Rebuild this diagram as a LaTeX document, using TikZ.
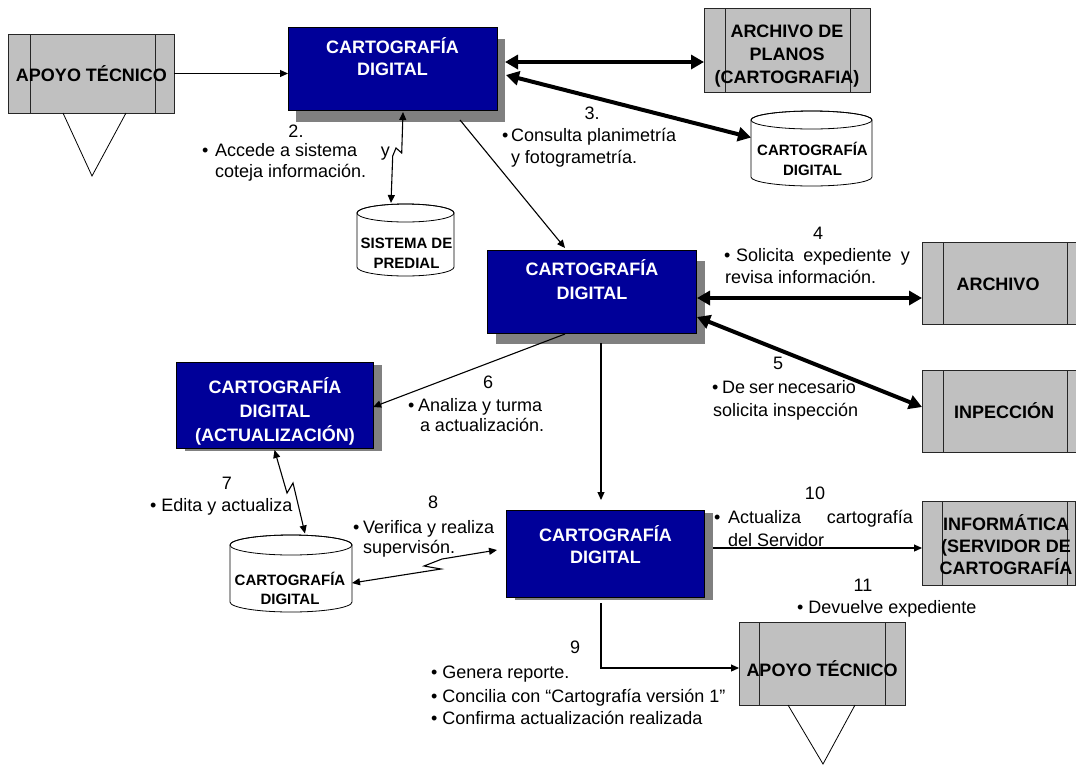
\documentclass[tikz,border=0pt]{standalone}
\usepackage{fontspec}
\setmainfont{Liberation Sans}
\usetikzlibrary{arrows.meta,calc,shadows}
\definecolor{boxblue}{HTML}{000099}
\definecolor{shadowgray}{HTML}{808080}
\definecolor{panelgray}{HTML}{C0C0C0}

% cylinder (data store): centre x, top y, bottom y, x radius, y radius
\newcommand\drawcyl[5]{%
  \filldraw[fill=white,draw=black,line width=0.8pt]
    (#1-#4,#2+#5) -- (#1-#4,#3-#5)
    arc[start angle=180,end angle=0,x radius=#4,y radius=#5]
    -- (#1+#4,#2+#5)
    arc[start angle=0,end angle=-180,x radius=#4,y radius=#5] -- cycle;
  \draw[line width=0.8pt] (#1,#2+#5) ellipse[x radius=#4,y radius=#5];}

\tikzset{
  every node/.style={inner sep=0pt,outer sep=0pt},
  bluebox/.style 2 args={draw=black,line width=0.8pt,fill=boxblue,
    drop shadow={shadow xshift=#1,shadow yshift=#2,fill=shadowgray,opacity=1}},
  graypanel/.style 2 args={draw=black!85,line width=0.8pt,fill=panelgray,
    path picture={
      \draw[black!85,line width=0.8pt]
        ([xshift=#1]path picture bounding box.north west) --
        ([xshift=#1]path picture bounding box.south west);
      \draw[black!85,line width=0.8pt]
        ([xshift=-#2]path picture bounding box.north east) --
        ([xshift=-#2]path picture bounding box.south east);}},
  storebox/.style={draw=none},
  boxtxt/.style={anchor=base,text=white,font=\fontsize{18}{22}\selectfont\bfseries},
  paneltxt/.style={anchor=base,text=black,font=\fontsize{18}{22}\selectfont\bfseries},
  cyltxt/.style={anchor=base,text=black,font=\fontsize{15}{20}\selectfont\bfseries},
  lbl/.style={anchor=base west,font=\fontsize{18}{22}\selectfont},
  num/.style={anchor=base,font=\fontsize{18}{22}\selectfont},
  flow/.style={line width=1.1pt,-{Triangle[length=8pt,width=7pt]}},
  flowboth/.style={line width=1.1pt,{Triangle[length=8pt,width=7pt]}-{Triangle[length=8pt,width=7pt]}},
  heavy/.style={line width=4pt,{Triangle[length=13pt,width=14pt]}-{Triangle[length=13pt,width=14pt]}},
  tri/.style={line width=0.8pt}
}

\begin{document}
\begin{tikzpicture}[x=1pt,y=-1pt]
\useasboundingbox (0,0) rectangle (1076,764);

% ---------- process boxes ----------
\node[bluebox={8pt}{-12pt},minimum width=209pt,minimum height=83pt] (box1) at (392.5,68.5) {};
\node[bluebox={9pt}{-11pt},minimum width=209pt,minimum height=83pt] (box2) at (591.5,291.5) {};
\node[bluebox={9pt}{-3pt},minimum width=197pt,minimum height=86pt] (box3) at (274.5,405) {};
\node[bluebox={9pt}{-3pt},minimum width=198pt,minimum height=87pt] (box4) at (605,553.5) {};

% ---------- external entities ----------
\node[graypanel={22pt}{19pt},minimum width=166pt,minimum height=79pt] (apoyo1) at (91,73.5) {};
\draw[tri] ($(apoyo1.south)+(-28,0)$) -- ($(apoyo1.south)+(1,63)$) -- ($(apoyo1.south)+(35,0)$);
\node[graypanel={21pt}{20pt},minimum width=166pt,minimum height=84pt] (archplanos) at (787,50) {};
\node[graypanel={21pt}{21pt},minimum width=166pt,minimum height=82pt] (archivo) at (1005,283) {};
\node[graypanel={21pt}{21pt},minimum width=166pt,minimum height=82pt] (inspeccion) at (1005,411) {};
\node[graypanel={20pt}{8pt},minimum width=153pt,minimum height=84pt] (informatica) at (998.5,543) {};
\node[graypanel={20pt}{20pt},minimum width=166pt,minimum height=83pt] (apoyo2) at (822,663.5) {};
\draw[tri] ($(apoyo2.south)+(-34,0)$) -- ($(apoyo2.south)+(1,59)$) -- ($(apoyo2.south)+(33,0)$);

% ---------- data stores ----------
\drawcyl{811.5}{111}{186}{60.5}{9}
\node[storebox,minimum width=121pt,minimum height=75pt] (cyl1) at (811.5,148.5) {};
\drawcyl{405.5}{204}{276}{48.5}{9}
\node[storebox,minimum width=97pt,minimum height=72pt] (predial) at (405.5,240) {};
\drawcyl{291}{535}{612}{61}{10}
\node[storebox,minimum width=122pt,minimum height=77pt] (cyl2) at (291,573.5) {};

% ---------- box texts ----------
\node[boxtxt] (box1a) at (392.5,53) {CARTOGRAFÍA};
\node[boxtxt] (box1b) at (392.5,75) {DIGITAL};
\node[boxtxt] (box2a) at (592,275) {CARTOGRAFÍA};
\node[boxtxt] (box2b) at (592,299) {DIGITAL};
\node[boxtxt] (box3a) at (275,393) {CARTOGRAFÍA};
\node[boxtxt] (box3b) at (275,417) {DIGITAL};
\node[boxtxt] (box3c) at (275,441) {(ACTUALIZACIÓN)};
\node[boxtxt] (box4a) at (605.5,541) {CARTOGRAFÍA};
\node[boxtxt] (box4b) at (605.5,563) {DIGITAL};

\node[paneltxt] (apoyo1a) at (91.5,81) {APOYO TÉCNICO};
\node[paneltxt] (archplanosa) at (787,37) {ARCHIVO DE};
\node[paneltxt] (archplanosb) at (787,60) {PLANOS};
\node[paneltxt] (archplanosc) at (787,83) {(CARTOGRAFIA)};
\node[paneltxt] (archivoa) at (998,290) {ARCHIVO};
\node[paneltxt] (inspecciona) at (1004,418) {INPECCIÓN};
\node[paneltxt] (informaticaa) at (1006,530) {INFORMÁTICA};
\node[paneltxt] (informaticab) at (1006,552) {(SERVIDOR DE};
\node[paneltxt] (informaticac) at (1006,574) {CARTOGRAFÍA};
\node[paneltxt] (apoyo2a) at (822,676) {APOYO TÉCNICO};

\node[cyltxt] (cyl1a) at (812.5,155) {CARTOGRAFÍA};
\node[cyltxt] (cyl1b) at (812.5,175) {DIGITAL};
\node[cyltxt] (predialA) at (406.5,248) {SISTEMA DE};
\node[cyltxt] (predialB) at (406.5,268) {PREDIAL};
\node[cyltxt] (cyl2a) at (290,585) {CARTOGRAFÍA};
\node[cyltxt] (cyl2b) at (290,604) {DIGITAL};

% ---------- connectors ----------
\draw[flow] (apoyo1.east) -- (apoyo1.east -| box1.west);

\coordinate (planosA) at ($(box1.east)+(8,-6.5)$);
\draw[heavy] (planosA) -- (planosA -| archplanos.west);
\draw[heavy] ($(box1.east)+(9,6.5)$) -- ($(cyl1.west)+(0,-11)$);

\draw[flowboth] ($(box1.south)+(10.5,2)$) -- (401.7,153) -- (396,148) -- (392.7,156)
  -- ($(predial.north)+(-14.5,-1)$);

\draw[flow] ($(box1.south)+(67.5,10)$) -- ($(box2.north)+(-26.5,-2)$);

\coordinate (archA) at ($(box2.east)+(1,6.5)$);
\draw[heavy] (archA) -- (archA -| archivo.west);
\draw[heavy] ($(box2.east)+(1,25.5)$) -- ($(inspeccion.west)+(0,-4)$);

\draw[flow] ($(box2.south)+(-26.5,1)$) -- ($(box3.east)+(0,2)$);

\coordinate (downA) at ($(box2.south)+(9.5,10)$);
\draw[flow] (downA) -- ($(box4.north)+(-4,-10)$);

\draw[flowboth] ($(box3.south)+(0,2)$) -- (287,493) -- (293,483) -- ($(cyl2.north)+(14,-1.5)$);

\draw[flowboth] ($(cyl2.east)+(0,9.5)$) -- (441,569) -- (424,566) -- (442,559)
  -- ($(box4.west)+(-9,-3.5)$);

\coordinate (servA) at ($(box4.east)+(9,-5.5)$);
\draw[flow] (servA) -- (servA -| informatica.west);

\draw[flow] ($(box4.south)+(-4,6)$) |- ($(apoyo2.west)+(0,4.5)$);

% ---------- step annotations ----------
\node[num] (n2) at (296,137) {2.};
\node[lbl] (t2b) at (202,156) {•};
\node[lbl] (t2a) at (215,156) {\makebox[175pt][s]{Accede a sistema\hfill y}};
\node[lbl] (t2c) at (215,177) {coteja información.};

\node[num] (n3) at (592,119) {3.};
\node[lbl] (t3b) at (502,141) {•};
\node[lbl] (t3a) at (511,141) {Consulta planimetría};
\node[lbl] (t3c) at (511,163) {y fotogrametría.};

\node[num] (n4) at (818,239) {4};
\node[lbl] (t4b) at (724,261) {•};
\node[lbl] (t4a) at (736,261) {\makebox[174pt][s]{Solicita expediente y}};
\node[lbl] (t4c) at (725,283) {revisa información.};

\node[num] (n5) at (778,369) {5};
\node[lbl] (t5a) at (712,393) {\makebox[144pt][s]{• De ser necesario}};
\node[lbl] (t5c) at (713,416) {solicita inspección};

\node[num] (n6) at (488,388) {6};
\node[lbl] (t6b) at (408,411) {•};
\node[lbl] (t6a) at (418,411) {Analiza y turma};
\node[lbl] (t6c) at (420,431) {a actualización.};

\node[num] (n7) at (227,489) {7};
\node[lbl] (t7a) at (150,511) {• Edita y actualiza};

\node[num] (n8) at (433,508) {8};
\node[lbl] (t8b) at (353,533) {•};
\node[lbl] (t8a) at (363,533) {Verifica y realiza};
\node[lbl] (t8c) at (363,553) {supervisón.};

\node[num] (n9) at (575,653) {9};
\node[lbl] (t9a) at (431,678) {• Genera reporte.};
\node[lbl] (t9b) at (431,702) {• Concilia con “Cartografía versión 1”};
\node[lbl] (t9c) at (431,724) {• Confirma actualización realizada};

\node[num] (n10) at (815,499) {10};
\node[lbl] (t10b) at (714,523) {•};
\node[lbl] (t10a) at (728,523) {\makebox[185pt][s]{Actualiza\hfill cartografía}};
\node[lbl] (t10c) at (728,546) {del Servidor};

\node[num] (n11) at (863,591) {11};
\node[lbl] (t11a) at (797,613) {• Devuelve expediente};

\end{tikzpicture}
\end{document}
